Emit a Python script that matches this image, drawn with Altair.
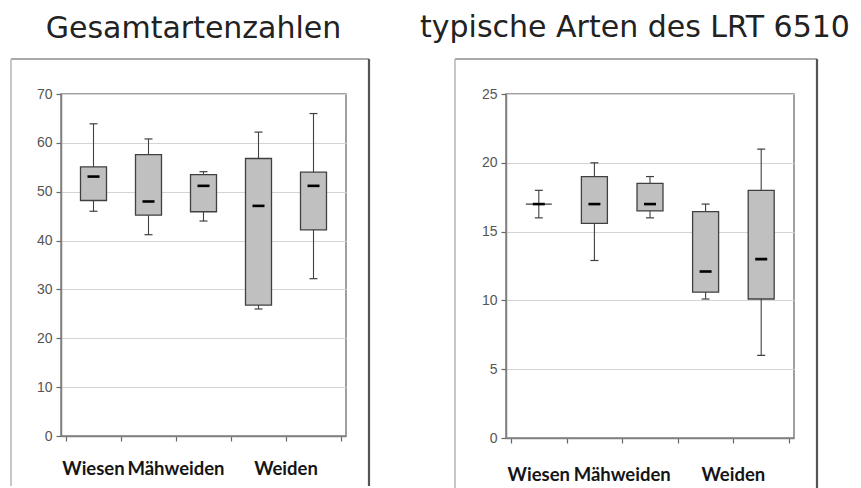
import altair as alt
import pandas as pd

# ---------------- data ----------------
slot_pos = [0.5, 1.5, 2.5, 3.5, 4.5]
x_ticks = [0, 1, 2, 3, 4, 5]
cat_labels = ["Wiesen", "Mähweiden", "Weiden"]
cat_label_pos = [0.5, 2.0, 4.0]

titles = ["Gesamtartenzahlen", "typische Arten des LRT 6510"]

# Gesamtartenzahlen
ges_min = [46.0, 41.2, 44.0, 26.0, 32.2]
ges_q1 = [48.2, 45.2, 45.9, 26.8, 42.2]
ges_med = [53.1, 48.0, 51.2, 47.1, 51.2]
ges_q3 = [55.1, 57.6, 53.5, 56.8, 54.0]
ges_max = [63.9, 60.8, 54.1, 62.2, 66.0]
ges_yticks = [0, 10, 20, 30, 40, 50, 60, 70]

# typische Arten des LRT 6510
typ_min = [16.0, 12.9, 16.0, 10.1, 6.0]
typ_q1 = [17.0, 15.6, 16.5, 10.6, 10.1]
typ_med = [17.0, 17.0, 17.0, 12.1, 13.0]
typ_q3 = [17.0, 19.0, 18.5, 16.45, 18.0]
typ_max = [18.0, 20.0, 19.0, 17.0, 21.0]
typ_yticks = [0, 5, 10, 15, 20, 25]

BOX_STROKE = "#404040"


def panel(title, title_size, mins, q1s, meds, q3s, maxs, yticks, w, h,
          frame_l, frame_r, title_x, title_y, label_y):
    df = pd.DataFrame({"pos": slot_pos, "lo": mins, "q1": q1s,
                       "med": meds, "q3": q3s, "hi": maxs})
    one = pd.DataFrame({"k": [0]})
    xs = alt.Scale(domain=[x_ticks[0], x_ticks[-1]], nice=False, zero=False)
    ys = alt.Scale(domain=[yticks[0], yticks[-1]], nice=False)
    xaxis = alt.Axis(values=x_ticks, labels=False, title=None, grid=False,
                     tickSize=5, tickColor="#666666", tickWidth=1.2,
                     domainColor="#808080", domainWidth=1.5)
    yaxis = alt.Axis(values=yticks, title=None, grid=True, gridColor="#d4d4d4",
                     gridWidth=1, tickSize=5, tickColor="#666666", tickWidth=1.2,
                     domainColor="#808080", domainWidth=1.5,
                     labelFont="Liberation Sans", labelFontSize=14,
                     labelColor="#555555", labelPadding=4)

    base = alt.Chart(df)
    whisk = base.mark_rule(color=BOX_STROKE, strokeWidth=1.1).encode(
        x=alt.X("pos:Q", scale=xs, axis=xaxis),
        y=alt.Y("lo:Q", scale=ys, axis=yaxis),
        y2="hi:Q",
    )
    cap_hi = base.mark_tick(orient="horizontal", size=8, thickness=1.2,
                            color=BOX_STROKE, opacity=1).encode(
        x="pos:Q", y="hi:Q")
    cap_lo = base.mark_tick(orient="horizontal", size=8, thickness=1.2,
                            color=BOX_STROKE, opacity=1).encode(
        x="pos:Q", y="lo:Q")
    box = base.mark_bar(orient="vertical", size=26, fill="#c0c0c0",
                        stroke=BOX_STROKE, strokeWidth=1.3, opacity=1).encode(
        x="pos:Q", y="q1:Q", y2="q3:Q")
    med = base.mark_tick(orient="horizontal", size=12, thickness=2.6,
                         color="#000000", opacity=1).encode(
        x="pos:Q", y="med:Q")

    lab_df = pd.DataFrame({"lab": cat_labels, "lpos": cat_label_pos})
    labels = alt.Chart(lab_df).mark_text(
        font="Lato", fontWeight="bold", fontSize=18.5, color="#151515",
        align="center", baseline="alphabetic").encode(
        x="lpos:Q", y=alt.value(label_y), text="lab:N")

    ttl = alt.Chart(pd.DataFrame({"t": [title]})).mark_text(
        font="DejaVu Sans", fontSize=title_size, color="#222222",
        align="center", baseline="alphabetic").encode(
        x=alt.value(title_x), y=alt.value(title_y), text="t:N")

    fbot = h + 50
    frame_top = alt.Chart(one).mark_rule(color="#8c8c8c", strokeWidth=1.5).encode(
        x=alt.value(frame_l), x2=alt.value(frame_r), y=alt.value(-35))
    frame_left = alt.Chart(one).mark_rule(color="#b4b4b4", strokeWidth=1.5).encode(
        x=alt.value(frame_l), y=alt.value(-35), y2=alt.value(fbot))
    frame_right = alt.Chart(one).mark_rule(color="#555555", strokeWidth=2.2).encode(
        x=alt.value(frame_r), y=alt.value(-35), y2=alt.value(fbot))
    anchor = alt.Chart(one).mark_rule(opacity=0, strokeWidth=1).encode(
        x=alt.value(-51.5), x2=alt.value(-45), y=alt.value(-84.5))

    return alt.layer(anchor, frame_top, frame_left, frame_right, ttl,
                     whisk, box, cap_hi, cap_lo, med, labels).properties(
        width=w, height=h)


left = panel(titles[0], 30, ges_min, ges_q1, ges_med, ges_q3, ges_max, ges_yticks,
             285, 342, -50, 308, 132.5, -56, 381)
right = panel(titles[1], 30, typ_min, typ_q1, typ_med, typ_q3, typ_max, typ_yticks,
              288, 344, -51, 311, 129, -57, 387)

chart = alt.hconcat(left, right, spacing=160, bounds="flush").properties(
    padding=0
).configure_view(stroke="#808080", strokeWidth=1.5)

chart.save("out.html", embed_options={"renderer": "svg", "actions": False})
